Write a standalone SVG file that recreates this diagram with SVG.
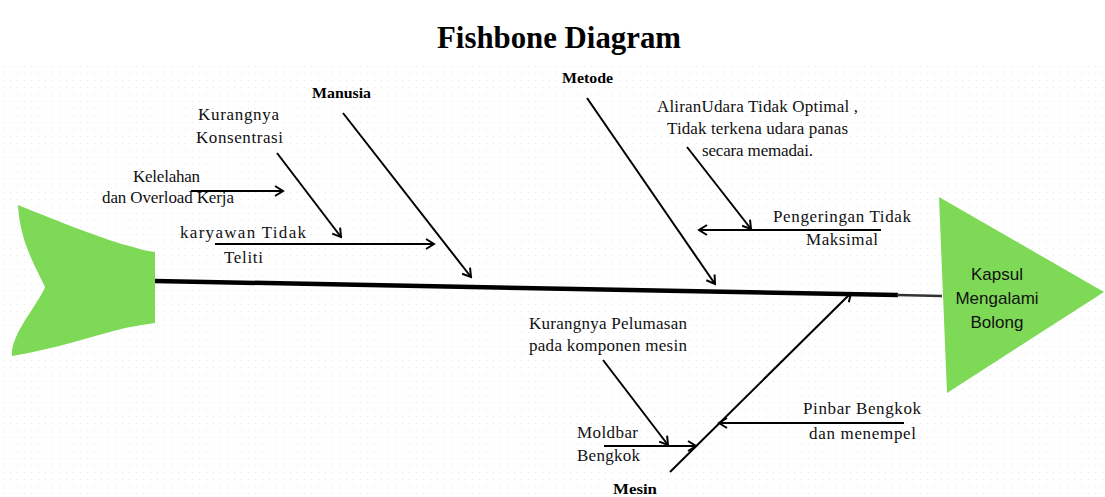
<svg xmlns="http://www.w3.org/2000/svg" width="1105" height="497" viewBox="0 0 1105 497">
<style>
.t{font-family:"Liberation Serif","Times New Roman",serif;font-size:17px;fill:#111}
.b{font-family:"Liberation Serif","Times New Roman",serif;font-weight:bold;font-size:15px;fill:#000}
.s{font-family:"Liberation Sans",Arial,sans-serif;font-size:17px;fill:#111;text-anchor:middle}
.ln{stroke:#000;stroke-width:2;fill:none}
.shape{fill:#7ed957}
</style>
<defs>
<pattern id="dots" width="7" height="7" patternUnits="userSpaceOnUse">
<circle cx="3.5" cy="3.5" r="0.8" fill="#ececec"/>
</pattern>
<marker id="ah" markerWidth="12" markerHeight="12" refX="10" refY="6" orient="auto" markerUnits="userSpaceOnUse">
<path d="M2,1 L10,6 L2,11" fill="none" stroke="#000" stroke-width="2"/>
</marker>
</defs>
<rect width="1105" height="497" fill="#fff"/>
<rect x="0" y="60" width="1105" height="437" fill="url(#dots)"/>
<text x="559" y="48" text-anchor="middle" font-family="Liberation Serif,Times New Roman,serif" font-weight="bold" font-size="31" textLength="244" lengthAdjust="spacingAndGlyphs">Fishbone Diagram</text>

<g id="tail">
<path class="shape" d="M18,205 C60,222 105,240 133,247 Q145,251 155,252 L155,323 Q140,325 125,328 C90,337 50,350 12,356 C10,335 38,305 45,287 C33,262 20,240 18,205 Z"/>
</g>
<g id="head">
<path class="shape" d="M939,197 L1104,292 L947,393 Z"/>
<text class="s" x="997" y="280">Kapsul</text>
<text class="s" x="997" y="304">Mengalami</text>
<text class="s" x="997" y="328">Bolong</text>
</g>

<g id="connectors">
<path d="M155,281 L898,295" stroke="#000" stroke-width="4.5" fill="none"/>
<path d="M897,295 L942,296" stroke="#333" stroke-width="2.5" fill="none"/>
<path class="ln" d="M343,113 L471,277" marker-end="url(#ah)"/>
<path class="ln" d="M277,153 L341,237" marker-end="url(#ah)"/>
<path class="ln" d="M191,191 L283,191" marker-end="url(#ah)"/>
<path class="ln" d="M215,244 L434,244" marker-end="url(#ah)"/>
<path class="ln" d="M587,98 L715,284" marker-end="url(#ah)"/>
<path class="ln" d="M687,147 L751,229" marker-end="url(#ah)"/>
<path class="ln" d="M881,230 L699,230" marker-end="url(#ah)"/>
<path class="ln" d="M670,472 L851,293" marker-end="url(#ah)"/>
<path class="ln" d="M603,360 L668,445" marker-end="url(#ah)"/>
<path class="ln" d="M604,446 L696,446" marker-end="url(#ah)"/>
<path class="ln" d="M904,423 L719,423" marker-end="url(#ah)"/>
</g>

<g id="manusia">
<text class="b" x="312" y="98" textLength="59" lengthAdjust="spacingAndGlyphs">Manusia</text>
<text class="t" x="198" y="120" textLength="81">Kurangnya</text>
<text class="t" x="196" y="143" textLength="87">Konsentrasi</text>
<text class="t" x="133" y="182" textLength="67">Kelelahan</text>
<text class="t" x="102" y="203" textLength="132">dan Overload Kerja</text>
<text class="t" x="180" y="238" textLength="126">karyawan Tidak</text>
<text class="t" x="224" y="263" textLength="39">Teliti</text>
</g>

<g id="metode">
<text class="b" x="562" y="83" textLength="51" lengthAdjust="spacingAndGlyphs">Metode</text>
<text class="t" x="657" y="112" textLength="201">AliranUdara Tidak Optimal ,</text>
<text class="t" x="667" y="134" textLength="181">Tidak terkena udara panas</text>
<text class="t" x="702" y="156" textLength="111">secara memadai.</text>
<text class="t" x="773" y="222" textLength="138">Pengeringan Tidak</text>
<text class="t" x="806" y="245" textLength="72">Maksimal</text>
</g>

<g id="mesin">
<text class="b" x="613" y="494" textLength="44" lengthAdjust="spacingAndGlyphs">Mesin</text>
<text class="t" x="529" y="329" textLength="158">Kurangnya Pelumasan</text>
<text class="t" x="529" y="351" textLength="158">pada komponen mesin</text>
<text class="t" x="577" y="438" textLength="61">Moldbar</text>
<text class="t" x="577" y="461" textLength="63">Bengkok</text>
<text class="t" x="803" y="414" textLength="118">Pinbar Bengkok</text>
<text class="t" x="809" y="439" textLength="107">dan menempel</text>
</g>
</svg>
